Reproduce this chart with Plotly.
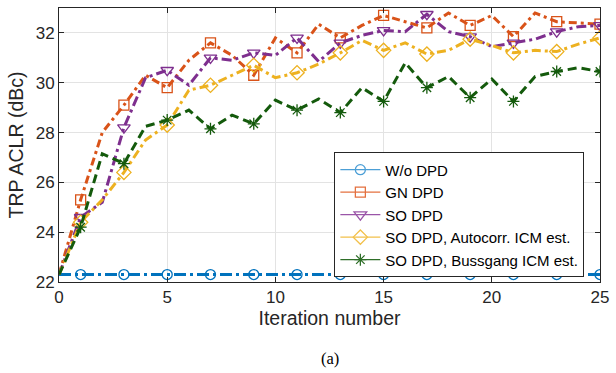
import plotly.graph_objects as go

iterations = list(range(0, 26))

wo_dpd = [22.3] * 26
gn_dpd = [22.3, 25.3, 28.0, 29.1, 30.3, 29.8, 30.9, 31.6, 31.1, 30.3, 31.8, 31.2, 32.35,
          31.8, 32.3, 32.7, 32.45, 32.2, 32.8, 32.3, 32.7, 31.85, 32.8, 32.45, 32.4, 32.35]
so_dpd = [22.3, 24.6, 25.2, 28.2, 30.2, 30.5, 29.9, 31.0, 30.9, 31.2, 31.1, 31.8, 30.85,
          31.6, 31.9, 32.1, 32.05, 32.75, 32.05, 31.85, 31.45, 31.6, 31.75, 32.05, 32.25, 32.3]
so_auto = [22.3, 24.4, 25.3, 26.4, 27.7, 28.3, 29.7, 29.9, 30.3, 30.7, 30.2, 30.4, 30.75,
           31.2, 31.7, 31.3, 31.6, 31.15, 31.3, 31.75, 31.5, 31.2, 31.3, 31.25, 31.55, 31.8]
so_buss = [22.3, 24.2, 27.15, 26.75, 28.25, 28.5, 28.9, 28.15, 28.7, 28.35, 29.3, 28.9, 29.35,
           28.8, 29.8, 29.25, 30.8, 29.8, 30.25, 29.4, 30.15, 29.25, 30.25, 30.45, 30.6, 30.45]

x_ticks = [0, 5, 10, 15, 20, 25]
y_ticks = [22, 24, 26, 28, 30, 32]

names = ["W/o DPD", "GN DPD", "SO DPD", "SO DPD, Autocorr. ICM est.", "SO DPD, Bussgang ICM est."]
series = [wo_dpd, gn_dpd, so_dpd, so_auto, so_buss]
colors = ["#0072BD", "#D95319", "#7E2F8E", "#EDB120", "#145A0C"]
legend_colors = ["#4C9FD6", "#E4703F", "#9A55A8", "#F2C04A", "#2E6E28"]
symbols = ["circle-open", "square-open", "triangle-down-open", "diamond-open", "asterisk-open"]
msizes = [10, 10, 11, 11, 10]
dash_specs = ["12px,4px,3px,4px", "8px,4px,3px,4px", "10px,4px,3px,4px", "9px,4px,3px,4px", "9px,5px"]

fig = go.Figure()

for name, ys, c, sym, ms, dsh in zip(names, series, colors, symbols, msizes, dash_specs):
    mx = [x for x in iterations if x % 2 == 1]
    my = [ys[x] for x in mx]
    fig.add_trace(go.Scatter(x=iterations, y=ys, mode="lines", showlegend=False,
                             line=dict(color=c, width=3, dash=dsh), hoverinfo="skip"))
    fig.add_trace(go.Scatter(x=mx, y=my, mode="markers", showlegend=False,
                             marker=dict(symbol=sym, size=ms, color=c,
                                         line=dict(color=c, width=1.3))))

for name, c, sym, ms in zip(names, legend_colors, symbols, msizes):
    fig.add_trace(go.Scatter(x=[None], y=[None], mode="lines+markers", name=name,
                             line=dict(color=c, width=1.2),
                             marker=dict(symbol=sym, size=ms, color=c, line=dict(color=c, width=1.3))))

tick_font = dict(family="Liberation Sans, Arial", size=17, color="#262626")
title_font = dict(family="Liberation Sans, Arial", size=19.5, color="#262626")
axis_common = dict(showgrid=True, gridcolor="#E3E3E3", gridwidth=1,
                   showline=True, linecolor="#262626", linewidth=1, mirror="allticks",
                   ticks="inside", ticklen=5, tickcolor="#262626", zeroline=False,
                   tickfont=tick_font, ticklabeloverflow="allow")

fig.update_layout(
    width=616, height=373,
    margin=dict(l=59, r=9, t=7, b=91),
    paper_bgcolor="white", plot_bgcolor="white",
    xaxis=dict(range=[0, 25], tickvals=x_ticks,
               title=dict(text="Iteration number", standoff=4, font=title_font),
               **axis_common),
    yaxis=dict(range=[22, 33], tickvals=y_ticks,
               title=dict(text="TRP ACLR (dBc)", standoff=6, font=title_font),
               **axis_common),
    legend=dict(x=0.509, y=0.473, xanchor="left", yanchor="top",
                bgcolor="white", bordercolor="#262626", borderwidth=1,
                font=dict(family="Liberation Sans, Arial", size=15, color="#000000"),
                tracegroupgap=0, itemwidth=40),
    annotations=[dict(text="(a)", xref="paper", yref="paper", x=0.5, y=-0.28,
                      xanchor="center", yanchor="middle", showarrow=False,
                      font=dict(family="Liberation Serif, Times New Roman", size=16.5, color="#000000"))],
    showlegend=True,
)

fig.write_html("out.html")
